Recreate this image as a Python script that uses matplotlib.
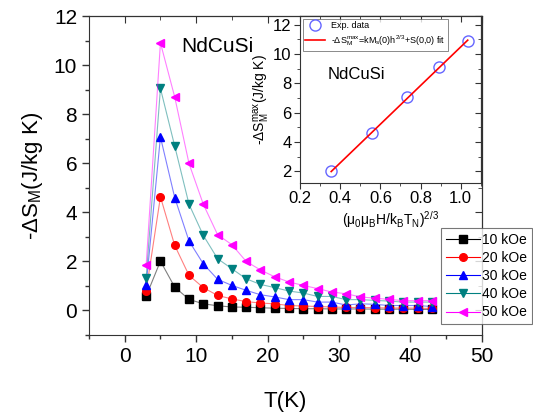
import matplotlib
matplotlib.use("Agg")
import matplotlib.pyplot as plt
import numpy as np
from matplotlib.ticker import MultipleLocator

plt.rcParams['font.family'] = ['Liberation Sans', 'DejaVu Sans']
plt.rcParams['mathtext.fontset'] = 'custom'
plt.rcParams['mathtext.rm'] = 'Liberation Sans'
plt.rcParams['mathtext.it'] = 'Liberation Sans'

# temperature (K)
T = [3, 5, 7, 9, 11, 13, 15, 17, 19, 21, 23, 25, 27, 29, 31, 33, 35, 37, 39, 41, 43]
# -dS_M (J/kg K) at each field
s10 = [0.58, 2.01, 0.95, 0.45, 0.27, 0.19, 0.14, 0.13, 0.11, 0.09, 0.08, 0.07, 0.07,
       0.06, 0.06, 0.06, 0.05, 0.05, 0.05, 0.04, 0.04]
s20 = [0.79, 4.63, 2.65, 1.43, 0.93, 0.61, 0.47, 0.36, 0.30, 0.27, 0.20, 0.18, 0.16,
       0.14, 0.12, 0.12, 0.11, 0.10, 0.10, 0.09, 0.08]
s30 = [1.02, 7.07, 4.60, 2.83, 1.90, 1.27, 1.02, 0.82, 0.64, 0.55, 0.44, 0.44, 0.34,
       0.34, 0.22, 0.27, 0.25, 0.20, 0.20, 0.20, 0.16]
s40 = [1.33, 9.05, 6.70, 4.33, 3.06, 2.11, 1.70, 1.29, 1.06, 0.93, 0.79, 0.71, 0.57,
       0.57, 0.44, 0.44, 0.41, 0.38, 0.34, 0.34, 0.34]
s50 = [1.84, 10.91, 8.70, 5.99, 4.33, 3.09, 2.68, 2.00, 1.65, 1.37, 1.16, 1.02, 0.89,
       0.75, 0.68, 0.55, 0.50, 0.45, 0.40, 0.40, 0.40]
series = [s10, s20, s30, s40, s50]
labels = ['10 kOe', '20 kOe', '30 kOe', '40 kOe', '50 kOe']
colors = ['black', 'red', 'blue', '#008080', '#ff00ff']
markers = ['s', 'o', '^', 'v', '<']

# inset: peak entropy change vs (mu0 muB H / kB TN)^(2/3)
h23 = [0.355, 0.56, 0.735, 0.89, 1.035]
smax = [2.0, 4.6, 7.05, 9.1, 10.9]

fig = plt.figure(figsize=(5.33, 4.12), dpi=100)
ax = fig.add_axes([0.167, 0.187, 0.737, 0.774])

for y, lab, c, m in zip(series, labels, colors, markers):
    ax.plot(T, y, color=c, lw=0.8, alpha=0.5)
    ax.plot(T, y, ls='none', marker=m, color=c, ms=5.5, mec=c)
    ax.plot([], [], color=c, lw=0.8, marker=m, ms=5.5, label=lab)

ax.set_xlim(-5, 50)
ax.set_ylim(-1, 12)
ax.xaxis.set_major_locator(MultipleLocator(10))
ax.xaxis.set_minor_locator(MultipleLocator(5))
ax.yaxis.set_major_locator(MultipleLocator(2))
ax.yaxis.set_minor_locator(MultipleLocator(1))
ax.tick_params(which='both', direction='out', labelsize=15, width=1, color='#333333')
ax.tick_params(which='major', length=5)
ax.tick_params(which='minor', length=3)
for sp in ax.spines.values():
    sp.set_color('#333333')
top = ax.secondary_xaxis('top')
top.xaxis.set_major_locator(MultipleLocator(10))
top.xaxis.set_minor_locator(MultipleLocator(5))
top.tick_params(which='both', direction='in', labeltop=False, color='#333333')
top.tick_params(which='major', length=5)
top.tick_params(which='minor', length=3)
right = ax.secondary_yaxis('right')
right.yaxis.set_major_locator(MultipleLocator(2))
right.yaxis.set_minor_locator(MultipleLocator(1))
right.tick_params(which='both', direction='in', labelright=False, color='#333333')
right.tick_params(which='major', length=5)
right.tick_params(which='minor', length=3)

ax.set_xlabel('T(K)', fontsize=16, labelpad=18)
ax.set_ylabel(r'-$\Delta$S$_\mathrm{M}$(J/kg K)', fontsize=16, labelpad=6)
ax.text(0.235, 0.905, 'NdCuSi', transform=ax.transAxes, fontsize=15, va='center')

leg = fig.legend(loc='upper left', bbox_to_anchor=(0.828, 0.447), fontsize=10,
                 frameon=True, fancybox=False, edgecolor='#555555', handlelength=2.4,
                 handletextpad=0.2, borderpad=0.35, labelspacing=0.3, borderaxespad=0)
leg.get_frame().set_linewidth(0.8)

# inset
ins = fig.add_axes([0.563, 0.556, 0.339, 0.405])
coef = np.polyfit(h23, smax, 1)
fx = np.array([h23[0], h23[-1]])
ins.plot(h23, smax, ls='none', marker='o', mfc='none', mec='#6666ff', ms=8, mew=1.0,
         label='Exp. data')
ins.plot(fx, np.polyval(coef, fx), color='red', lw=1.2,
         label=r'-$\Delta$S$_\mathrm{M}^\mathrm{max}$=kM$_\mathrm{s}$(0)h$^{2/3}$+S(0,0) fit')
ins.set_xlim(0.2, 1.1)
ins.set_ylim(1.2, 12.6)
ins.set_xticks([0.2, 0.4, 0.6, 0.8, 1.0])
ins.set_xticklabels(['0.2', '0.4', '0.6', '0.8', '1.0'])
ins.xaxis.set_minor_locator(MultipleLocator(0.1))
ins.yaxis.set_major_locator(MultipleLocator(2))
ins.yaxis.set_minor_locator(MultipleLocator(1))
ins.tick_params(which='both', direction='out', labelsize=12, color='#333333', pad=2)
ins.tick_params(which='major', length=4)
ins.tick_params(which='minor', length=2)
for sp in ins.spines.values():
    sp.set_color('#333333')
itop = ins.secondary_xaxis('top')
itop.set_xticks([0.2, 0.4, 0.6, 0.8, 1.0])
itop.xaxis.set_minor_locator(MultipleLocator(0.1))
itop.tick_params(which='both', direction='in', labeltop=False, color='#333333')
itop.tick_params(which='major', length=4)
itop.tick_params(which='minor', length=2)
iright = ins.secondary_yaxis('right')
iright.yaxis.set_major_locator(MultipleLocator(2))
iright.yaxis.set_minor_locator(MultipleLocator(1))
iright.tick_params(which='both', direction='in', labelright=False, color='#333333')
iright.tick_params(which='major', length=4)
iright.tick_params(which='minor', length=2)
ins.set_xlabel(r'($\mu_\mathrm{0}\mu_\mathrm{B}$H/k$_\mathrm{B}$T$_\mathrm{N}$)$^{2/3}$',
               fontsize=10, labelpad=2)
ins.set_ylabel(r'-$\Delta$S$_\mathrm{M}^\mathrm{max}$(J/kg K)', fontsize=10, labelpad=1)
ins.text(0.15, 0.62, 'NdCuSi', transform=ins.transAxes, fontsize=12)
il = ins.legend(loc='upper left', fontsize=6.5, frameon=True, fancybox=False,
                edgecolor='#555555', borderaxespad=0.3, handlelength=2.2,
                handletextpad=0.6, borderpad=0.3, labelspacing=0.3)
il.get_frame().set_linewidth(0.6)

fig.savefig('out.png', dpi=100)
